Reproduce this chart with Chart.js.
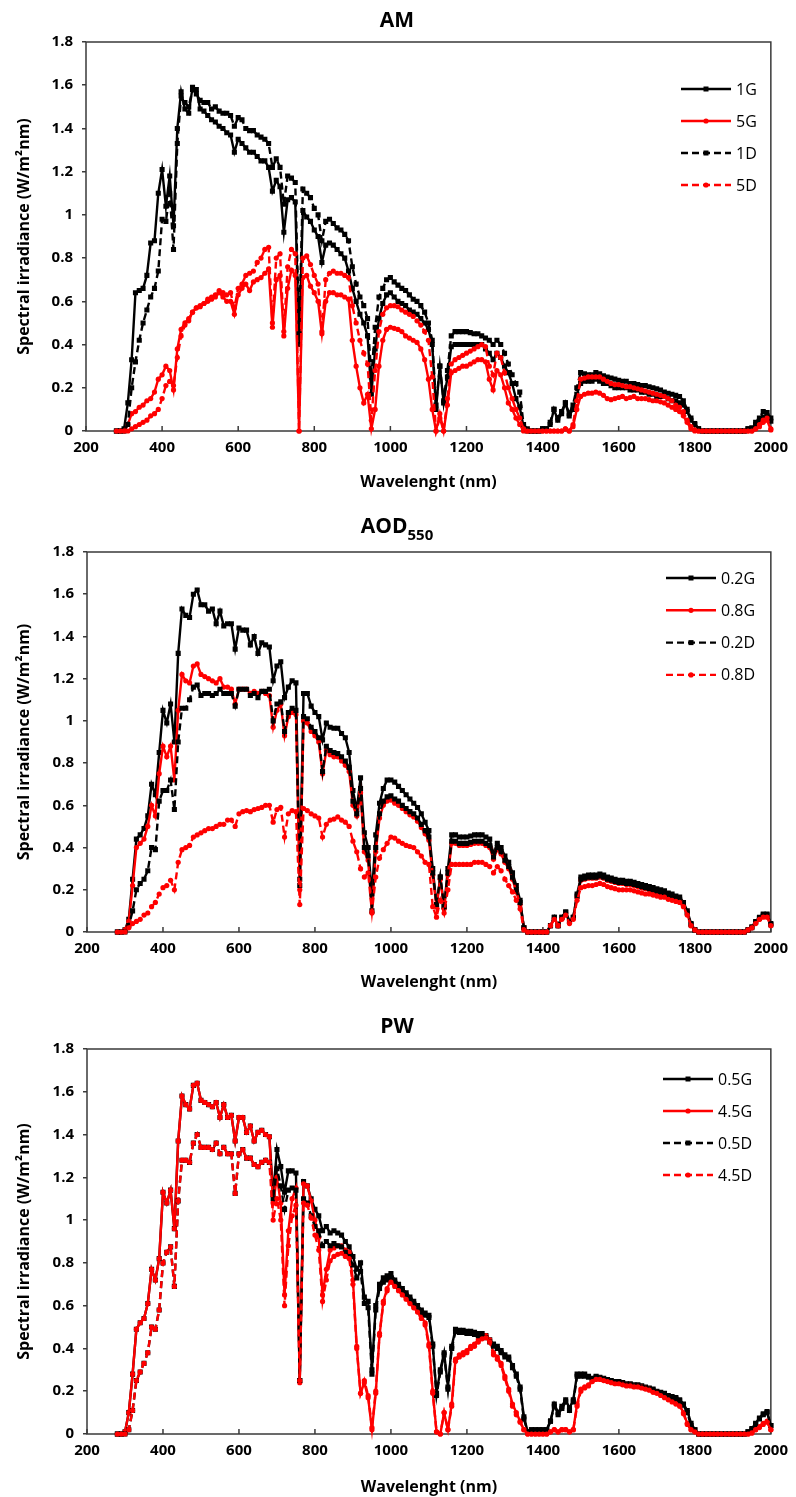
<!DOCTYPE html>
<html>
<head>
<meta charset="utf-8">
<script src="https://cdn.jsdelivr.net/npm/chart.js"></script>
<style>
  html, body { margin: 0; padding: 0; background: #fff; }
  .box { position: absolute; left: 0; width: 796px; }
</style>
</head>
<body>
<div class="box" style="top:0px;height:498px"><canvas id="c1" width="796" height="498"></canvas></div>
<div class="box" style="top:498px;height:499px"><canvas id="c2" width="796" height="499"></canvas></div>
<div class="box" style="top:997px;height:500px"><canvas id="c3" width="796" height="500"></canvas></div>
<script>
// wavelength grid (nm)
var wavelength = [
280,290,300,310,320,330,340,350,360,370,
380,390,400,410,420,430,440,450,460,470,
480,490,500,510,520,530,540,550,560,570,
580,590,600,610,620,630,640,650,660,670,
680,690,700,710,720,730,740,750,760,770,
780,790,800,810,820,830,840,850,860,870,
880,890,900,910,920,930,940,950,960,970,
980,990,1000,1010,1020,1030,1040,1050,1060,1070,
1080,1090,1100,1110,1120,1130,1140,1150,1160,1170,
1180,1190,1200,1210,1220,1230,1240,1250,1260,1270,
1280,1290,1300,1310,1320,1330,1340,1350,1360,1370,
1380,1390,1400,1410,1420,1430,1440,1450,1460,1470,
1480,1490,1500,1510,1520,1530,1540,1550,1560,1570,
1580,1590,1600,1610,1620,1630,1640,1650,1660,1670,
1680,1690,1700,1710,1720,1730,1740,1750,1760,1770,
1780,1790,1800,1810,1820,1830,1840,1850,1860,1870,
1880,1890,1900,1910,1920,1930,1940,1950,1960,1970,
1980,1990,2000
];

// ---- AM ----
var am1G = [
0,0,0.01,0.13,0.33,0.64,0.65,0.66,0.72,0.87,
0.88,1.10,1.21,1.04,1.18,0.95,1.40,1.57,1.49,1.47,
1.59,1.58,1.49,1.48,1.46,1.44,1.43,1.41,1.40,1.38,
1.37,1.29,1.35,1.33,1.31,1.29,1.29,1.27,1.25,1.25,
1.22,1.11,1.16,1.13,0.92,1.07,1.08,1.06,0.40,1.02,
0.99,0.97,0.93,0.90,0.78,0.86,0.87,0.86,0.84,0.82,
0.80,0.74,0.66,0.60,0.54,0.50,0.44,0.17,0.38,0.52,
0.59,0.63,0.64,0.62,0.60,0.59,0.58,0.56,0.55,0.54,
0.52,0.50,0.47,0.40,0.10,0.30,0.13,0.25,0.39,0.40,
0.40,0.40,0.40,0.40,0.40,0.40,0.40,0.38,0.36,0.33,
0.36,0.34,0.30,0.27,0.22,0.15,0.11,0.02,0,0,
0,0,0.01,0.01,0.03,0.10,0.05,0.08,0.13,0.07,
0.10,0.17,0.22,0.23,0.23,0.23,0.24,0.23,0.22,0.22,
0.21,0.20,0.20,0.20,0.20,0.19,0.19,0.19,0.18,0.18,
0.17,0.17,0.16,0.16,0.16,0.15,0.14,0.14,0.13,0.12,
0.09,0.05,0.03,0.01,0,0,0,0,0,0,
0,0,0,0,0,0,0.01,0.01,0.03,0.05,
0.065,0.07,0.045
];
var am5G = [
0,0,0,0.03,0.08,0.09,0.11,0.12,0.14,0.15,
0.18,0.24,0.26,0.30,0.28,0.19,0.38,0.47,0.50,0.52,
0.55,0.57,0.575,0.59,0.60,0.61,0.62,0.64,0.62,0.60,
0.60,0.54,0.63,0.66,0.68,0.65,0.69,0.70,0.71,0.73,
0.75,0.48,0.70,0.72,0.44,0.66,0.745,0.72,0.0,0.71,
0.72,0.67,0.64,0.60,0.45,0.60,0.64,0.64,0.63,0.63,
0.62,0.61,0.42,0.30,0.20,0.13,0.17,0.01,0.10,0.30,
0.42,0.47,0.48,0.475,0.47,0.46,0.44,0.43,0.42,0.41,
0.38,0.33,0.24,0.10,0.0,0.08,0.0,0.12,0.27,0.28,
0.29,0.30,0.30,0.31,0.32,0.33,0.33,0.32,0.24,0.19,
0.28,0.26,0.20,0.13,0.10,0.06,0.03,0.0,0,0,
0,0,0,0,0,0,0,0,0.01,0,
0.02,0.10,0.16,0.17,0.175,0.175,0.18,0.175,0.165,0.15,
0.145,0.15,0.155,0.16,0.15,0.155,0.16,0.15,0.15,0.15,
0.145,0.14,0.14,0.135,0.13,0.12,0.11,0.10,0.09,0.07,
0.04,0.01,0,0,0,0,0,0,0,0,
0,0,0,0,0,0,0,0,0.01,0.02,
0.04,0.05,0.005
];
var am1D = [
0,0,0,0.03,0.20,0.32,0.42,0.50,0.56,0.62,
0.66,0.74,0.98,0.97,1.10,0.84,1.33,1.55,1.52,1.50,
1.58,1.56,1.53,1.52,1.52,1.49,1.50,1.48,1.47,1.47,
1.46,1.41,1.45,1.44,1.40,1.39,1.39,1.37,1.36,1.35,
1.33,1.22,1.26,1.22,1.05,1.18,1.17,1.15,0.45,1.12,
1.10,1.08,1.03,1.00,0.88,0.97,0.98,0.96,0.94,0.93,
0.91,0.88,0.76,0.68,0.62,0.58,0.52,0.25,0.48,0.62,
0.66,0.70,0.71,0.69,0.675,0.66,0.65,0.63,0.61,0.60,
0.58,0.55,0.50,0.42,0.12,0.30,0.14,0.28,0.44,0.46,
0.46,0.46,0.46,0.455,0.45,0.45,0.44,0.43,0.42,0.40,
0.42,0.40,0.36,0.31,0.26,0.22,0.18,0.03,0.01,0,
0,0,0.01,0.01,0.04,0.10,0.06,0.09,0.13,0.08,
0.12,0.20,0.27,0.265,0.26,0.26,0.27,0.265,0.255,0.25,
0.245,0.24,0.235,0.23,0.23,0.22,0.22,0.215,0.21,0.21,
0.205,0.20,0.195,0.19,0.18,0.175,0.17,0.165,0.16,0.14,
0.10,0.06,0.035,0.01,0,0,0,0,0,0,
0,0,0,0,0,0,0.01,0.015,0.04,0.06,
0.09,0.085,0.06
];
var am5D = [
0,0,0,0,0.01,0.02,0.03,0.04,0.05,0.07,
0.08,0.10,0.15,0.21,0.23,0.21,0.34,0.44,0.49,0.51,
0.55,0.57,0.58,0.59,0.61,0.62,0.63,0.65,0.64,0.63,
0.64,0.57,0.66,0.68,0.72,0.73,0.74,0.78,0.80,0.84,
0.85,0.50,0.80,0.82,0.46,0.76,0.84,0.82,0.0,0.80,
0.81,0.77,0.72,0.68,0.46,0.70,0.73,0.74,0.73,0.73,
0.72,0.71,0.58,0.50,0.42,0.36,0.31,0.05,0.28,0.46,
0.54,0.57,0.58,0.58,0.575,0.56,0.55,0.54,0.53,0.51,
0.49,0.46,0.42,0.25,0.0,0.06,0.0,0.15,0.31,0.33,
0.34,0.35,0.36,0.37,0.38,0.39,0.40,0.39,0.30,0.26,
0.36,0.34,0.27,0.20,0.15,0.10,0.06,0.01,0,0,
0,0,0,0,0,0,0,0,0.01,0,
0.03,0.14,0.24,0.245,0.25,0.25,0.25,0.25,0.24,0.23,
0.22,0.215,0.215,0.21,0.205,0.205,0.20,0.195,0.19,0.185,
0.18,0.175,0.17,0.165,0.16,0.15,0.14,0.12,0.11,0.09,
0.05,0.02,0.005,0,0,0,0,0,0,0,
0,0,0,0,0,0,0,0,0.01,0.03,
0.05,0.06,0.01
];

// ---- AOD550 ----
var aod02G = [
0,0,0.01,0.06,0.25,0.44,0.46,0.49,0.55,0.70,
0.65,0.85,1.05,0.99,1.08,0.90,1.32,1.53,1.50,1.49,
1.60,1.62,1.55,1.55,1.52,1.53,1.46,1.52,1.45,1.46,
1.46,1.34,1.44,1.43,1.43,1.36,1.40,1.32,1.37,1.36,
1.35,1.19,1.26,1.28,1.11,1.16,1.19,1.18,0.25,1.13,
1.13,1.07,1.04,1.02,0.91,0.99,0.97,0.965,0.965,0.94,
0.92,0.85,0.67,0.58,0.73,0.47,0.40,0.18,0.46,0.61,
0.68,0.72,0.72,0.71,0.69,0.67,0.65,0.63,0.61,0.59,
0.56,0.52,0.48,0.30,0.13,0.26,0.12,0.30,0.46,0.46,
0.45,0.45,0.45,0.455,0.46,0.46,0.46,0.45,0.44,0.37,
0.42,0.40,0.36,0.33,0.28,0.22,0.15,0.02,0,0,
0,0,0,0,0.03,0.07,0.03,0.07,0.095,0.05,
0.07,0.18,0.26,0.265,0.27,0.27,0.27,0.275,0.27,0.26,
0.255,0.25,0.245,0.245,0.24,0.24,0.235,0.23,0.225,0.22,
0.215,0.21,0.205,0.20,0.195,0.185,0.18,0.17,0.165,0.14,
0.10,0.04,0.01,0,0,0,0,0,0,0,
0,0,0,0,0,0,0.01,0.025,0.05,0.07,
0.085,0.085,0.04
];
var aod08G = [
0,0,0.01,0.05,0.22,0.40,0.42,0.44,0.50,0.60,
0.55,0.75,0.88,0.83,0.88,0.72,1.05,1.22,1.19,1.18,
1.26,1.27,1.22,1.21,1.20,1.19,1.18,1.20,1.16,1.16,
1.15,1.08,1.15,1.15,1.15,1.13,1.14,1.13,1.14,1.13,
1.12,0.97,1.05,1.08,0.93,1.02,1.04,1.03,0.20,1.00,
0.99,0.95,0.93,0.90,0.75,0.86,0.84,0.83,0.83,0.81,
0.79,0.76,0.60,0.55,0.66,0.38,0.34,0.09,0.38,0.54,
0.60,0.62,0.625,0.61,0.60,0.585,0.57,0.555,0.545,0.525,
0.495,0.465,0.435,0.27,0.12,0.25,0.11,0.27,0.42,0.42,
0.41,0.41,0.41,0.415,0.42,0.42,0.42,0.41,0.40,0.345,
0.39,0.37,0.33,0.30,0.25,0.19,0.13,0.02,0,0,
0,0,0,0,0.03,0.065,0.03,0.065,0.09,0.045,
0.065,0.165,0.245,0.25,0.255,0.255,0.255,0.26,0.255,0.245,
0.24,0.235,0.23,0.23,0.225,0.225,0.22,0.215,0.21,0.205,
0.20,0.195,0.19,0.185,0.18,0.17,0.165,0.155,0.15,0.125,
0.085,0.03,0.01,0,0,0,0,0,0,0,
0,0,0,0,0,0,0.01,0.02,0.045,0.06,
0.075,0.075,0.035
];
var aod02D = [
0,0,0,0.03,0.10,0.20,0.23,0.25,0.29,0.40,
0.39,0.62,0.67,0.67,0.72,0.58,0.90,1.06,1.06,1.10,
1.16,1.17,1.12,1.13,1.13,1.12,1.13,1.15,1.13,1.13,
1.13,1.07,1.15,1.15,1.15,1.12,1.13,1.11,1.14,1.14,
1.15,1.00,1.08,1.09,0.95,1.04,1.06,1.05,0.22,1.02,
1.01,0.97,0.95,0.92,0.76,0.88,0.86,0.85,0.845,0.83,
0.81,0.78,0.62,0.56,0.68,0.40,0.36,0.10,0.40,0.56,
0.62,0.64,0.645,0.63,0.62,0.60,0.585,0.57,0.56,0.54,
0.51,0.48,0.45,0.28,0.13,0.26,0.12,0.28,0.43,0.43,
0.42,0.42,0.42,0.425,0.43,0.43,0.43,0.42,0.41,0.355,
0.40,0.38,0.34,0.31,0.26,0.20,0.14,0.02,0,0,
0,0,0,0,0.03,0.07,0.03,0.07,0.095,0.05,
0.07,0.17,0.25,0.255,0.26,0.26,0.26,0.265,0.26,0.25,
0.245,0.24,0.235,0.235,0.23,0.23,0.225,0.22,0.215,0.21,
0.205,0.20,0.195,0.19,0.185,0.175,0.17,0.16,0.155,0.13,
0.09,0.035,0.01,0,0,0,0,0,0,0,
0,0,0,0,0,0,0.01,0.02,0.045,0.065,
0.08,0.08,0.035
];
var aod08D = [
0,0,0,0.02,0.04,0.05,0.06,0.08,0.09,0.12,
0.14,0.18,0.21,0.22,0.245,0.20,0.33,0.39,0.40,0.41,
0.45,0.46,0.47,0.48,0.49,0.49,0.50,0.51,0.51,0.53,
0.53,0.50,0.56,0.57,0.575,0.57,0.58,0.585,0.59,0.60,
0.60,0.52,0.58,0.59,0.45,0.56,0.575,0.57,0.13,0.585,
0.575,0.56,0.55,0.54,0.45,0.51,0.53,0.535,0.545,0.53,
0.52,0.50,0.43,0.38,0.30,0.26,0.28,0.095,0.26,0.35,
0.39,0.42,0.45,0.445,0.43,0.42,0.41,0.405,0.40,0.38,
0.36,0.33,0.32,0.12,0.07,0.15,0.09,0.20,0.32,0.32,
0.32,0.32,0.32,0.32,0.33,0.33,0.33,0.32,0.31,0.28,
0.31,0.29,0.25,0.22,0.19,0.15,0.11,0.01,0,0,
0,0,0,0,0.03,0.06,0.03,0.06,0.08,0.04,
0.06,0.15,0.21,0.215,0.22,0.22,0.225,0.23,0.225,0.215,
0.21,0.205,0.20,0.20,0.20,0.20,0.195,0.19,0.185,0.18,
0.18,0.175,0.17,0.165,0.165,0.155,0.15,0.145,0.14,0.12,
0.08,0.03,0.01,0,0,0,0,0,0,0,
0,0,0,0,0,0,0.01,0.02,0.04,0.06,
0.07,0.07,0.03
];

// ---- PW ----
var pw05G = [
0,0,0.01,0.10,0.28,0.49,0.52,0.54,0.61,0.77,
0.72,0.82,1.13,1.08,1.14,0.96,1.37,1.58,1.54,1.52,
1.63,1.64,1.56,1.55,1.54,1.53,1.55,1.48,1.54,1.48,
1.49,1.37,1.48,1.48,1.41,1.44,1.37,1.41,1.42,1.40,
1.39,1.12,1.33,1.25,1.13,1.23,1.23,1.22,0.25,1.18,
1.16,1.10,1.05,1.02,0.95,0.97,0.94,0.95,0.94,0.93,
0.90,0.875,0.83,0.77,0.80,0.64,0.62,0.30,0.60,0.70,
0.73,0.74,0.75,0.72,0.70,0.68,0.66,0.64,0.62,0.60,
0.58,0.565,0.555,0.42,0.19,0.30,0.38,0.22,0.41,0.49,
0.485,0.485,0.48,0.48,0.475,0.47,0.47,0.46,0.44,0.42,
0.41,0.39,0.37,0.36,0.32,0.28,0.22,0.08,0.01,0.02,
0.02,0.02,0.02,0.02,0.06,0.14,0.10,0.13,0.16,0.12,
0.16,0.28,0.28,0.28,0.27,0.26,0.27,0.265,0.26,0.255,
0.25,0.245,0.245,0.24,0.235,0.235,0.23,0.23,0.225,0.22,
0.215,0.21,0.20,0.195,0.19,0.18,0.175,0.17,0.16,0.14,
0.11,0.05,0.02,0,0,0,0,0,0,0,
0,0,0,0,0,0,0.01,0.025,0.05,0.075,
0.095,0.105,0.04
];
var pw45G = [
0,0,0.01,0.10,0.28,0.49,0.52,0.54,0.61,0.77,
0.72,0.82,1.13,1.08,1.14,0.96,1.37,1.58,1.54,1.52,
1.63,1.64,1.56,1.55,1.54,1.53,1.55,1.48,1.54,1.48,
1.49,1.37,1.48,1.48,1.41,1.44,1.37,1.41,1.42,1.40,
1.39,1.08,1.20,1.08,0.65,0.95,1.10,1.15,0.24,1.17,
1.16,1.09,1.00,0.92,0.65,0.77,0.86,0.87,0.88,0.88,
0.86,0.85,0.72,0.41,0.19,0.24,0.17,0.02,0.19,0.46,
0.62,0.68,0.72,0.70,0.68,0.66,0.64,0.62,0.60,0.58,
0.55,0.52,0.42,0.20,0.01,0.0,0.10,0.02,0.14,0.35,
0.37,0.38,0.39,0.41,0.42,0.44,0.455,0.46,0.44,0.38,
0.36,0.33,0.27,0.21,0.14,0.10,0.06,0.02,0,0,
0,0,0,0,0.01,0.02,0.01,0.02,0.02,0.01,
0.02,0.14,0.21,0.22,0.23,0.25,0.26,0.26,0.255,0.25,
0.245,0.24,0.24,0.235,0.23,0.23,0.225,0.225,0.22,0.215,
0.21,0.20,0.195,0.185,0.175,0.165,0.155,0.145,0.135,0.10,
0.05,0.02,0.01,0,0,0,0,0,0,0,
0,0,0,0,0,0,0,0.005,0.02,0.035,
0.05,0.06,0.02
];
var pw05D = [
0,0,0,0.02,0.11,0.25,0.29,0.33,0.38,0.50,
0.49,0.58,0.80,0.85,0.875,0.69,1.09,1.28,1.28,1.27,
1.36,1.40,1.34,1.34,1.34,1.33,1.36,1.31,1.34,1.31,
1.31,1.125,1.31,1.33,1.29,1.29,1.26,1.25,1.27,1.28,
1.27,1.10,1.24,1.16,1.05,1.14,1.15,1.14,0.25,1.10,
1.08,1.02,0.97,0.95,0.88,0.90,0.88,0.89,0.88,0.875,
0.85,0.83,0.79,0.73,0.76,0.61,0.59,0.28,0.58,0.68,
0.71,0.72,0.73,0.71,0.69,0.67,0.65,0.63,0.61,0.59,
0.57,0.555,0.545,0.41,0.18,0.29,0.37,0.21,0.40,0.48,
0.475,0.475,0.47,0.47,0.465,0.46,0.46,0.45,0.43,0.41,
0.40,0.38,0.36,0.35,0.31,0.27,0.21,0.07,0.01,0.02,
0.02,0.02,0.02,0.02,0.06,0.13,0.09,0.12,0.15,0.11,
0.15,0.27,0.27,0.27,0.265,0.255,0.265,0.26,0.255,0.25,
0.245,0.24,0.24,0.235,0.23,0.23,0.225,0.225,0.22,0.215,
0.21,0.205,0.195,0.19,0.185,0.175,0.17,0.165,0.155,0.135,
0.10,0.04,0.02,0,0,0,0,0,0,0,
0,0,0,0,0,0,0.01,0.02,0.045,0.07,
0.09,0.10,0.04
];
var pw45D = [
0,0,0,0.02,0.11,0.25,0.29,0.33,0.38,0.50,
0.49,0.58,0.80,0.85,0.875,0.69,1.09,1.28,1.28,1.27,
1.36,1.40,1.34,1.34,1.34,1.33,1.36,1.31,1.34,1.31,
1.31,1.125,1.31,1.33,1.29,1.29,1.26,1.25,1.27,1.28,
1.27,1.00,1.10,1.00,0.60,0.88,1.02,1.07,0.25,1.08,
1.07,1.01,0.93,0.86,0.62,0.72,0.81,0.83,0.84,0.845,
0.83,0.82,0.70,0.40,0.19,0.25,0.18,0.03,0.20,0.47,
0.61,0.67,0.71,0.69,0.67,0.65,0.63,0.61,0.59,0.57,
0.54,0.51,0.41,0.19,0.01,0.0,0.10,0.02,0.13,0.34,
0.36,0.37,0.38,0.40,0.41,0.43,0.445,0.45,0.43,0.37,
0.35,0.32,0.26,0.20,0.13,0.09,0.055,0.02,0,0,
0,0,0,0,0.01,0.02,0.01,0.02,0.02,0.01,
0.02,0.13,0.20,0.215,0.225,0.245,0.255,0.255,0.25,0.245,
0.24,0.235,0.235,0.23,0.225,0.225,0.22,0.22,0.215,0.21,
0.205,0.195,0.19,0.18,0.17,0.16,0.15,0.14,0.13,0.095,
0.045,0.02,0.01,0,0,0,0,0,0,0,
0,0,0,0,0,0,0,0.005,0.02,0.03,
0.045,0.055,0.02
];

var FONT = '"Open Sans", "Liberation Sans", sans-serif';
var BLACK = '#000000';
var RED = '#ff0000';

function series(label, data, color, dashed, idx) {
    var square = color === BLACK;
    return {
        label: label,
        data: data,
        borderColor: color,
        backgroundColor: color,
        borderWidth: 2.4,
        borderDash: dashed ? [7, 4] : [],
        pointStyle: square ? 'rect' : 'circle',
        pointRadius: square ? 3.6 : 2.6,
        pointBorderWidth: 0,
        pointHoverRadius: 0,
        tension: 0,
        clip: 8,
        order: -idx
    };
}

// frame, inward x ticks, title and legend
var decorPlugin = {
    id: 'decor',
    beforeDatasetsDraw: function (chart) {
        var a = chart.chartArea, ctx = chart.ctx, xs = chart.scales.x;
        ctx.save();
        ctx.strokeStyle = '#3a3a3a';
        ctx.lineWidth = 1.5;
        ctx.strokeRect(a.left, a.top, a.right - a.left, a.bottom - a.top);
        xs.ticks.forEach(function (t) {
            var px = xs.getPixelForValue(t.value);
            ctx.beginPath();
            ctx.moveTo(px, a.bottom);
            ctx.lineTo(px, a.bottom - 5);
            ctx.stroke();
        });
        ctx.restore();
    },
    afterDraw: function (chart) {
        var o = chart.options.plugins.decor, ctx = chart.ctx;
        ctx.save();
        ctx.fillStyle = '#000';
        ctx.textAlign = 'left';
        ctx.textBaseline = 'alphabetic';
        ctx.font = 'bold 21px ' + FONT;
        var w1 = ctx.measureText(o.title).width, w2 = 0;
        if (o.sub) {
            ctx.font = 'bold 15px ' + FONT;
            w2 = ctx.measureText(o.sub).width;
        }
        var x0 = 397 - (w1 + w2) / 2;
        ctx.font = 'bold 21px ' + FONT;
        ctx.fillText(o.title, x0, o.titleY);
        if (o.sub) {
            ctx.font = 'bold 15px ' + FONT;
            ctx.fillText(o.sub, x0 + w1, o.titleY + 7);
        }

        ctx.font = '16px ' + FONT;
        ctx.textBaseline = 'middle';
        chart.data.datasets.forEach(function (ds, i) {
            var y = o.legendY + i * o.legendGap;
            var lx = o.legendX;
            ctx.strokeStyle = ds.borderColor;
            ctx.fillStyle = ds.borderColor;
            ctx.lineWidth = 2.4;
            ctx.setLineDash(ds.borderDash);
            ctx.beginPath();
            ctx.moveTo(lx, y);
            ctx.lineTo(lx + 50, y);
            ctx.stroke();
            ctx.setLineDash([]);
            if (ds.pointStyle === 'rect') {
                ctx.fillRect(lx + 22.5, y - 2.5, 5, 5);
            } else {
                ctx.beginPath();
                ctx.arc(lx + 25, y, 2.6, 0, Math.PI * 2);
                ctx.fill();
            }
            ctx.fillStyle = '#000';
            ctx.fillText(ds.label, lx + 55, y + 1);
        });
        ctx.restore();
    }
};

function makeChart(id, labels, sets, lay) {
    var ctx = document.getElementById(id).getContext('2d');
    return new Chart(ctx, {
        type: 'line',
        data: {
            labels: wavelength,
            datasets: [
                series(labels[0], sets[0], BLACK, false, 0),
                series(labels[1], sets[1], RED, false, 1),
                series(labels[2], sets[2], BLACK, true, 2),
                series(labels[3], sets[3], RED, true, 3)
            ]
        },
        plugins: [decorPlugin],
        options: {
            responsive: false,
            animation: false,
            devicePixelRatio: 1,
            layout: { padding: { top: lay.top, right: 23, bottom: 0, left: 0 } },
            plugins: {
                legend: { display: false },
                title: { display: false },
                tooltip: { enabled: false },
                decor: lay
            },
            scales: {
                x: {
                    type: 'linear',
                    min: 200,
                    max: 2000,
                    afterFit: function (s) { s.height = lay.xh; },
                    grid: { display: false, drawTicks: false },
                    border: { display: false },
                    ticks: {
                        stepSize: 200,
                        padding: 8,
                        maxRotation: 0,
                        color: '#000',
                        font: { family: FONT, size: 15, weight: 'bold' },
                        callback: function (v) { return String(v); }
                    },
                    title: {
                        display: true,
                        text: 'Wavelenght (nm)',
                        color: '#000',
                        font: { family: FONT, size: 16, weight: 'bold' },
                        padding: { top: 0, bottom: lay.xtPad }
                    }
                },
                y: {
                    min: 0,
                    max: 1.8,
                    afterFit: function (s) { s.width = lay.yw; },
                    grid: { drawOnChartArea: false, drawTicks: true, tickLength: 4, color: '#3a3a3a', lineWidth: 1.5 },
                    border: { display: false },
                    ticks: {
                        stepSize: 0.2,
                        padding: 9,
                        color: '#000',
                        font: { family: FONT, size: 15, weight: 'bold' },
                        callback: function (v) { return String(Math.round(v * 10) / 10); }
                    },
                    title: {
                        display: true,
                        text: 'Spectral irradiance (W/m\u00B2nm)',
                        color: '#000',
                        font: { family: FONT, size: 16, weight: 'bold' },
                        padding: { top: 15, bottom: 0 }
                    }
                }
            }
        }
    });
}

makeChart('c1', ['1G', '5G', '1D', '5D'], [am1G, am5G, am1D, am5D],
    { top: 42, xh: 67, yw: 86, xtPad: 6, title: 'AM', sub: '', titleY: 27, legendX: 681, legendY: 89, legendGap: 32 });
makeChart('c2', ['0.2G', '0.8G', '0.2D', '0.8D'], [aod02G, aod08G, aod02D, aod08D],
    { top: 54, xh: 65, yw: 87, xtPad: 5, title: 'AOD', sub: '550', titleY: 35, legendX: 666, legendY: 80, legendGap: 32.3 });
makeChart('c3', ['0.5G', '4.5G', '0.5D', '4.5D'], [pw05G, pw45G, pw05D, pw45D],
    { top: 52, xh: 63, yw: 87, xtPad: 0, title: 'PW', sub: '', titleY: 36, legendX: 663, legendY: 82, legendGap: 32 });
</script>
</body>
</html>
